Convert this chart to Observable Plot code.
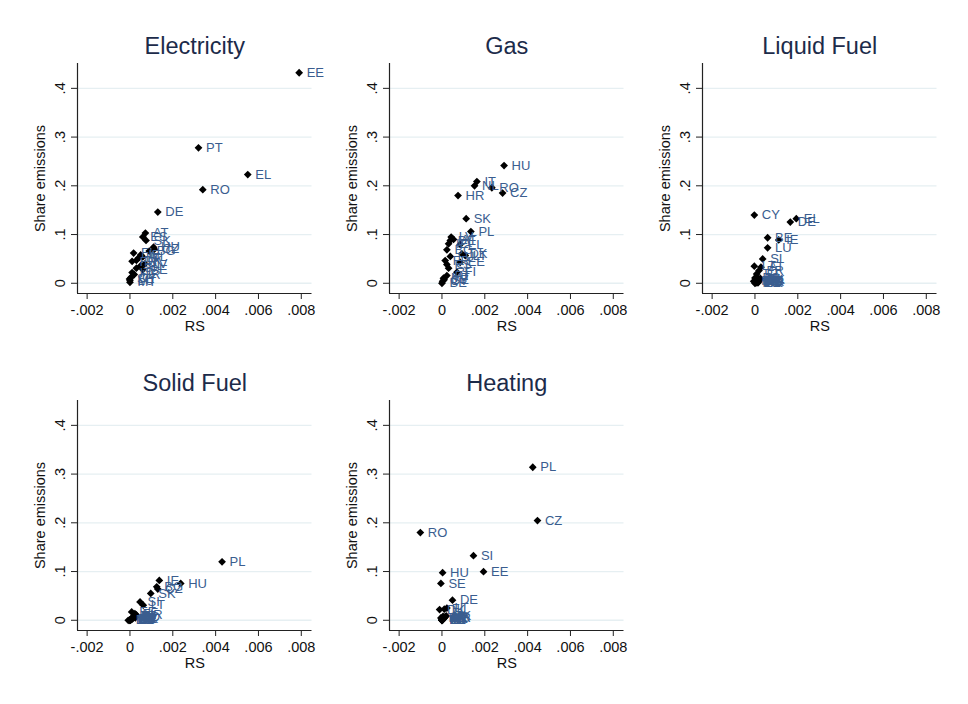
<!DOCTYPE html>
<html><head><meta charset="utf-8">
<script src="https://cdn.jsdelivr.net/npm/d3@7"></script>
<script src="https://cdn.jsdelivr.net/npm/@observablehq/plot@0.6"></script>
<style>
body{margin:0;background:#fff;}
#root{position:relative;width:968px;height:704px;overflow:hidden;font-family:"Liberation Sans",Arial,sans-serif;}
.panel{position:absolute;}
</style></head><body><div id="root"></div>
<script>
// ---- axes ----
const xTicks = [-0.002, 0, 0.002, 0.004, 0.006, 0.008];
const xTickLabels = ["-.002", "0", ".002", ".004", ".006", ".008"];
const yTicks = [0, 0.1, 0.2, 0.3, 0.4];
const yTickLabels = ["0", ".1", ".2", ".3", ".4"];
const xDomain = [-0.00245, 0.0085];
const yDomain = [-0.021, 0.451];
const xTitle = "RS";
const yTitle = "Share emissions";
const panelTitles = ["Electricity", "Gas", "Liquid Fuel", "Solid Fuel", "Heating"];

// ---- Electricity ----
const elecCountry = ["EE","PT","EL","RO","DE","AT","ES","SK","HU","CZ","FI","IE","LT","NL","DK","FR","LV","PL","SI","BE","IT","HR","CY","LU","MT","SE","BG"];
const elecRS      = [0.0079,0.0032,0.0055,0.0034,0.0013,0.00072,0.0006,0.00075,0.0011,0.00114,0.00017,0.0005,0.0004,0.0006,0.0003,0.0001,0.0007,0.0005,0.0003,0.0006,0.0001,0.0002,0.00005,0.0000,0.0000,-0.00002,0.0009];
const elecShare   = [0.432,0.278,0.223,0.192,0.146,0.103,0.095,0.088,0.074,0.070,0.062,0.058,0.052,0.054,0.047,0.045,0.040,0.036,0.031,0.028,0.022,0.018,0.012,0.006,0.002,0.009,0.066];

// ---- Gas ----
const gasCountry = ["HU","IT","NL","RO","CZ","HR","SK","PL","LV","DE","AT","IE","EL","BG","LT","LU","DK","FR","EE","ES","SI","FI","PT","MT","BE","CY","SE"];
const gasRS      = [0.0029,0.00163,0.00152,0.00233,0.00283,0.00075,0.00113,0.00135,0.00043,0.00039,0.00054,0.00031,0.00085,0.00023,0.00109,0.00039,0.00093,0.00015,0.00085,0.00023,0.00031,0.0007,0.00023,0.00007,0.0,0.00003,0.0001];
const gasShare   = [0.2415,0.2086,0.200,0.196,0.185,0.180,0.1325,0.106,0.0947,0.088,0.090,0.081,0.0796,0.0687,0.057,0.055,0.0605,0.0467,0.043,0.0385,0.031,0.0226,0.0158,0.0103,0.0,0.004,0.007];

// ---- Liquid Fuel ----
const liqCountry = ["CY","DE","EL","BE","IE","LU","SI","AT","LT","FR","PT","ES","IT","FI","BG","CZ","DK","EE","HR","HU","LV","MT","NL","PL","RO","SE","SK"];
const liqRS      = [-0.00003,0.00165,0.00193,0.00059,0.00111,0.00059,0.00036,0.00028,-0.00003,0.00019,0.00008,0.0,0.00016,-0.00006,0.00002,0.00012,0.0002,0.00005,0.00015,0.0001,0.00022,0.0,0.00025,0.00018,0.00008,0.00004,0.00014];
const liqShare   = [0.140,0.1255,0.1325,0.0934,0.089,0.0728,0.050,0.033,0.035,0.026,0.019,0.011,0.009,0.004,0.002,0.006,0.008,0.001,0.003,0.005,0.007,0.000,0.010,0.004,0.002,0.006,0.001];

// ---- Solid Fuel ----
const solCountry = ["PL","HU","IE","BG","CZ","SK","SI","LT","EE","FI","HR","RO","AT","BE","CY","DE","DK","EL","ES","FR","IT","LU","LV","MT","NL","PT","SE"];
const solRS      = [0.0043,0.00237,0.00137,0.00125,0.0013,0.00097,0.00047,0.00062,0.00008,0.00023,0.0003,0.00015,0.0001,0.00005,0.0,-0.00008,0.00012,0.0002,0.00004,0.00006,0.00018,0.0,0.00025,0.0,0.00003,0.00002,0.00009];
const solShare   = [0.120,0.0755,0.0817,0.0687,0.064,0.055,0.0377,0.031,0.017,0.0136,0.011,0.0068,0.004,0.002,0.0,0.0,0.003,0.008,0.001,0.002,0.009,0.001,0.005,0.0,0.002,0.001,0.003];

// ---- Heating ----
const heatCountry = ["PL","CZ","RO","SI","EE","HU","SE","DE","DK","FI","LT","AT","BE","BG","CY","EL","ES","FR","HR","IE","IT","LU","LV","MT","NL","PT","SK"];
const heatRS      = [0.00424,0.00446,-0.00101,0.00147,0.00194,0.00003,-0.00005,0.00049,-0.00011,0.00011,0.00023,0.00005,-0.00005,0.0001,0.0,0.0,0.00002,0.00006,0.00012,0.0,0.00003,0.0,0.00015,0.0,0.00008,0.00001,0.0002];
const heatShare   = [0.314,0.2047,0.180,0.1326,0.0996,0.0977,0.0755,0.0412,0.0219,0.0227,0.025,0.008,0.0047,0.006,0.0,0.001,0.0,0.003,0.005,0.0,0.002,0.0,0.007,0.0,0.004,0.001,0.009];

const panels = [
  {country: elecCountry, rs: elecRS, share: elecShare},
  {country: gasCountry, rs: gasRS, share: gasShare},
  {country: liqCountry, rs: liqRS, share: liqShare},
  {country: solCountry, rs: solRS, share: solShare},
  {country: heatCountry, rs: heatRS, share: heatShare}
];

const colLeft = [0, 312, 624.5];
const rowTop = [0, 337];
const labelColor = "#3a5d8f";
const titleColor = "#1c2b4a";
const gridColor = "#e6eff2";
const axisColor = "#222";
const root = document.getElementById("root");

panels.forEach((p, k) => {
  const data = p.country.map((c, i) => ({country: c, rs: p.rs[i], share: p.share[i]}));
  const chart = Plot.plot({
    width: 312,
    height: 330,
    marginLeft: 77,
    marginRight: 0.5,
    marginTop: 63,
    marginBottom: 37,
    style: {fontFamily: "'Liberation Sans', Arial, sans-serif", background: "transparent", overflow: "visible"},
    x: {domain: xDomain},
    y: {domain: yDomain},
    marks: [
      Plot.gridY(yTicks, {stroke: gridColor, strokeOpacity: 1, strokeWidth: 1.3}),
      Plot.axisX(xTicks, {tickFormat: d => xTickLabels[xTicks.indexOf(d)], tickSize: 6, tickPadding: 5.5, fontSize: 14.5, fill: "#111", stroke: axisColor, label: xTitle, labelAnchor: "center", labelArrow: "none", labelOffset: 37}),
      // y ticks + axis title
      Plot.axisY(yTicks, {tickFormat: () => "", tickSize: 6, fontSize: 14.5, fill: "#111", stroke: axisColor, label: yTitle, labelAnchor: "center", labelArrow: "none", labelOffset: 43}),
      // rotated y tick labels, positioned by the y scale
      Plot.text(yTicks, {y: d => d, text: d => yTickLabels[yTicks.indexOf(d)], frameAnchor: "left", dx: -17, rotate: -90, textAnchor: "middle", lineAnchor: "middle", fontSize: 14.5, fill: "#111"}),
      Plot.ruleX([xDomain[0]], {stroke: axisColor, strokeWidth: 1.2}),
      Plot.ruleY([yDomain[0]], {stroke: axisColor, strokeWidth: 1.2}),
      Plot.dot(data, {x: "rs", y: "share", symbol: "diamond2", r: 3.5, fill: "#000", stroke: "none"}),
      Plot.text(data, {x: "rs", y: "share", text: "country", dx: 7.5, textAnchor: "start", lineAnchor: "middle", fill: labelColor, fontSize: 13}),
      Plot.text([panelTitles[k]], {frameAnchor: "top", dy: -17, lineAnchor: "middle", fontSize: 23.5, fill: titleColor})
    ]
  });
  chart.classList.add("panel");
  chart.style.left = colLeft[k % 3] + "px";
  chart.style.top = rowTop[Math.floor(k / 3)] + "px";
  root.appendChild(chart);
});
</script></body></html>
